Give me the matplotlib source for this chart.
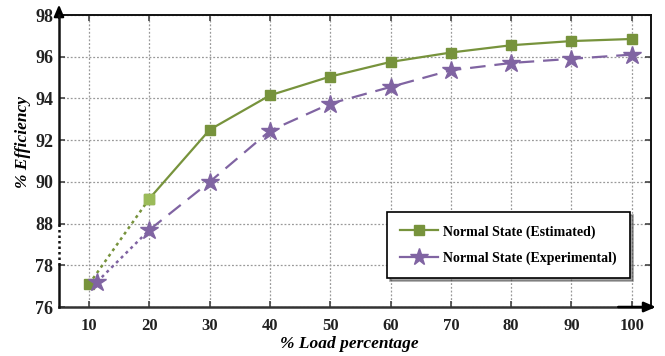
import matplotlib
matplotlib.use("Agg")
import matplotlib.pyplot as plt
from matplotlib.lines import Line2D
import numpy as np

# ---- data ----
load = [10, 20, 30, 40, 50, 60, 70, 80, 90, 100]
estimated = [77.1, 89.2, 92.5, 94.15, 95.05, 95.75, 96.2, 96.55, 96.75, 96.85]
load_exp = [11.3, 20, 30, 40, 50, 60, 70, 80, 90, 100]
experimental = [77.2, 87.7, 90.0, 92.45, 93.75, 94.55, 95.35, 95.7, 95.9, 96.1]
ytick_vals = [76, 78, 88, 90, 92, 94, 96, 98]
xtick_vals = [10, 20, 30, 40, 50, 60, 70, 80, 90, 100]
series_names = ['Normal State (Estimated)', 'Normal State (Experimental)']

GREEN = "#77933C"
GREEN_LIGHT = "#9BBB59"
PURPLE = "#8064A2"

def ymap(v):
    v = np.asarray(v, dtype=float)
    # broken axis: 76-78 below the break, 88+ above (2 units per tick)
    return np.where(v < 82, (v - 76) / 2.0, 2 + (v - 88) / 2.0)

plt.rcParams['font.family'] = ['Liberation Serif', 'DejaVu Serif']

fig = plt.figure(figsize=(6.65, 3.56), dpi=100)
ax = fig.add_axes([59/665, 1 - 307/356, (651 - 59)/665, (307 - 15)/356])

ye = ymap(estimated)
yx = ymap(experimental)

# segments across break (dotted)
ax.plot(load[:2], ye[:2], color=GREEN, lw=1.8, ls=(0, (1.2, 1.5)), zorder=3)
ax.plot(load_exp[:2], yx[:2], color=PURPLE, lw=1.8, ls=(0, (1.2, 1.5)), zorder=3)
# main segments
ax.plot(load[1:], ye[1:], color=GREEN, lw=1.6, zorder=3)
ax.plot(load_exp[1:], yx[1:], color=PURPLE, lw=1.6, ls=(0, (7, 4)), zorder=3)
# markers
ax.plot(load, ye, ls='none', marker='s', ms=6.5, color=GREEN, mec=GREEN, zorder=4)
ax.plot(load[1:2], ye[1:2], ls='none', marker='s', ms=6.5, color=GREEN_LIGHT, mec=GREEN_LIGHT, zorder=5)
ax.plot(load_exp, yx, ls='none', marker='*', ms=13.5, color=PURPLE, mec=PURPLE, zorder=4)

ax.set_xlim(5.0, 103.2)
ax.set_ylim(0, 7)
ax.set_xticks(xtick_vals)
ax.set_xticklabels([str(v) for v in xtick_vals], fontsize=12, fontweight='bold')
ax.set_yticks(ymap(ytick_vals))
ax.set_yticklabels([str(v) for v in ytick_vals], fontsize=13, fontweight='bold')
ax.tick_params(direction='in', length=4, width=1.2, color='#444444',
               top=True, right=True, pad=4, labelcolor='#222222')
ax.tick_params(axis='x', pad=8)

ax.grid(True, color='#999999', ls=(0, (1.5, 1.5)), lw=0.9)
ax.set_axisbelow(True)

for s in ['top', 'right']:
    ax.spines[s].set_color('#111111')
    ax.spines[s].set_linewidth(1.4)
ax.spines['bottom'].set_color('#333333')
ax.spines['bottom'].set_linewidth(1.8)
ax.spines['left'].set_visible(False)

# left spine with break
trans = ax.get_yaxis_transform()
ax.plot([0, 0], [0, 1.0], transform=trans, color='#111111', lw=1.8, clip_on=False, zorder=6)
ax.plot([0, 0], [1.0, 2.0], transform=trans, color='#111111', lw=1.8, ls=(0, (1, 1.2)), clip_on=False, zorder=6)
ax.plot([0, 0], [2.0, 7.0], transform=trans, color='#111111', lw=1.8, clip_on=False, zorder=6)

# arrows
ax.annotate('', xy=(0, 1.045), xytext=(0, 0.98), xycoords='axes fraction',
            arrowprops=dict(arrowstyle='-|>,head_length=0.7,head_width=0.3', color='black', lw=1.6),
            annotation_clip=False)
ax.annotate('', xy=(1.013, 0), xytext=(0.94, 0), xycoords='axes fraction',
            arrowprops=dict(arrowstyle='-|>,head_length=0.7,head_width=0.3', color='black', lw=1.8),
            annotation_clip=False)

ax.set_xlabel('% Load percentage', fontsize=12.5, fontweight='bold', style='italic')
ax.xaxis.set_label_coords(0.49, -0.1)
ax.set_ylabel('% Efficiency', fontsize=12.5, fontweight='bold', style='italic')
ax.yaxis.set_label_coords(-0.047, 0.565)

handles = [
    Line2D([], [], color=GREEN, lw=1.6, marker='s', ms=6.5, mec=GREEN),
    Line2D([], [], color=PURPLE, lw=1.6, marker='*', ms=13, mec=PURPLE),
]
leg = ax.legend(handles, series_names,
                loc='lower right', bbox_to_anchor=(0.965, 0.098), frameon=True, fancybox=False,
                shadow=True, prop={'weight': 'bold', 'size': 10}, borderpad=0.95,
                handlelength=2.7, labelspacing=0.95, handletextpad=0.4, borderaxespad=0)
leg.get_frame().set_edgecolor('black')
leg.get_frame().set_linewidth(1.2)

fig.savefig('out.png', dpi=100)
